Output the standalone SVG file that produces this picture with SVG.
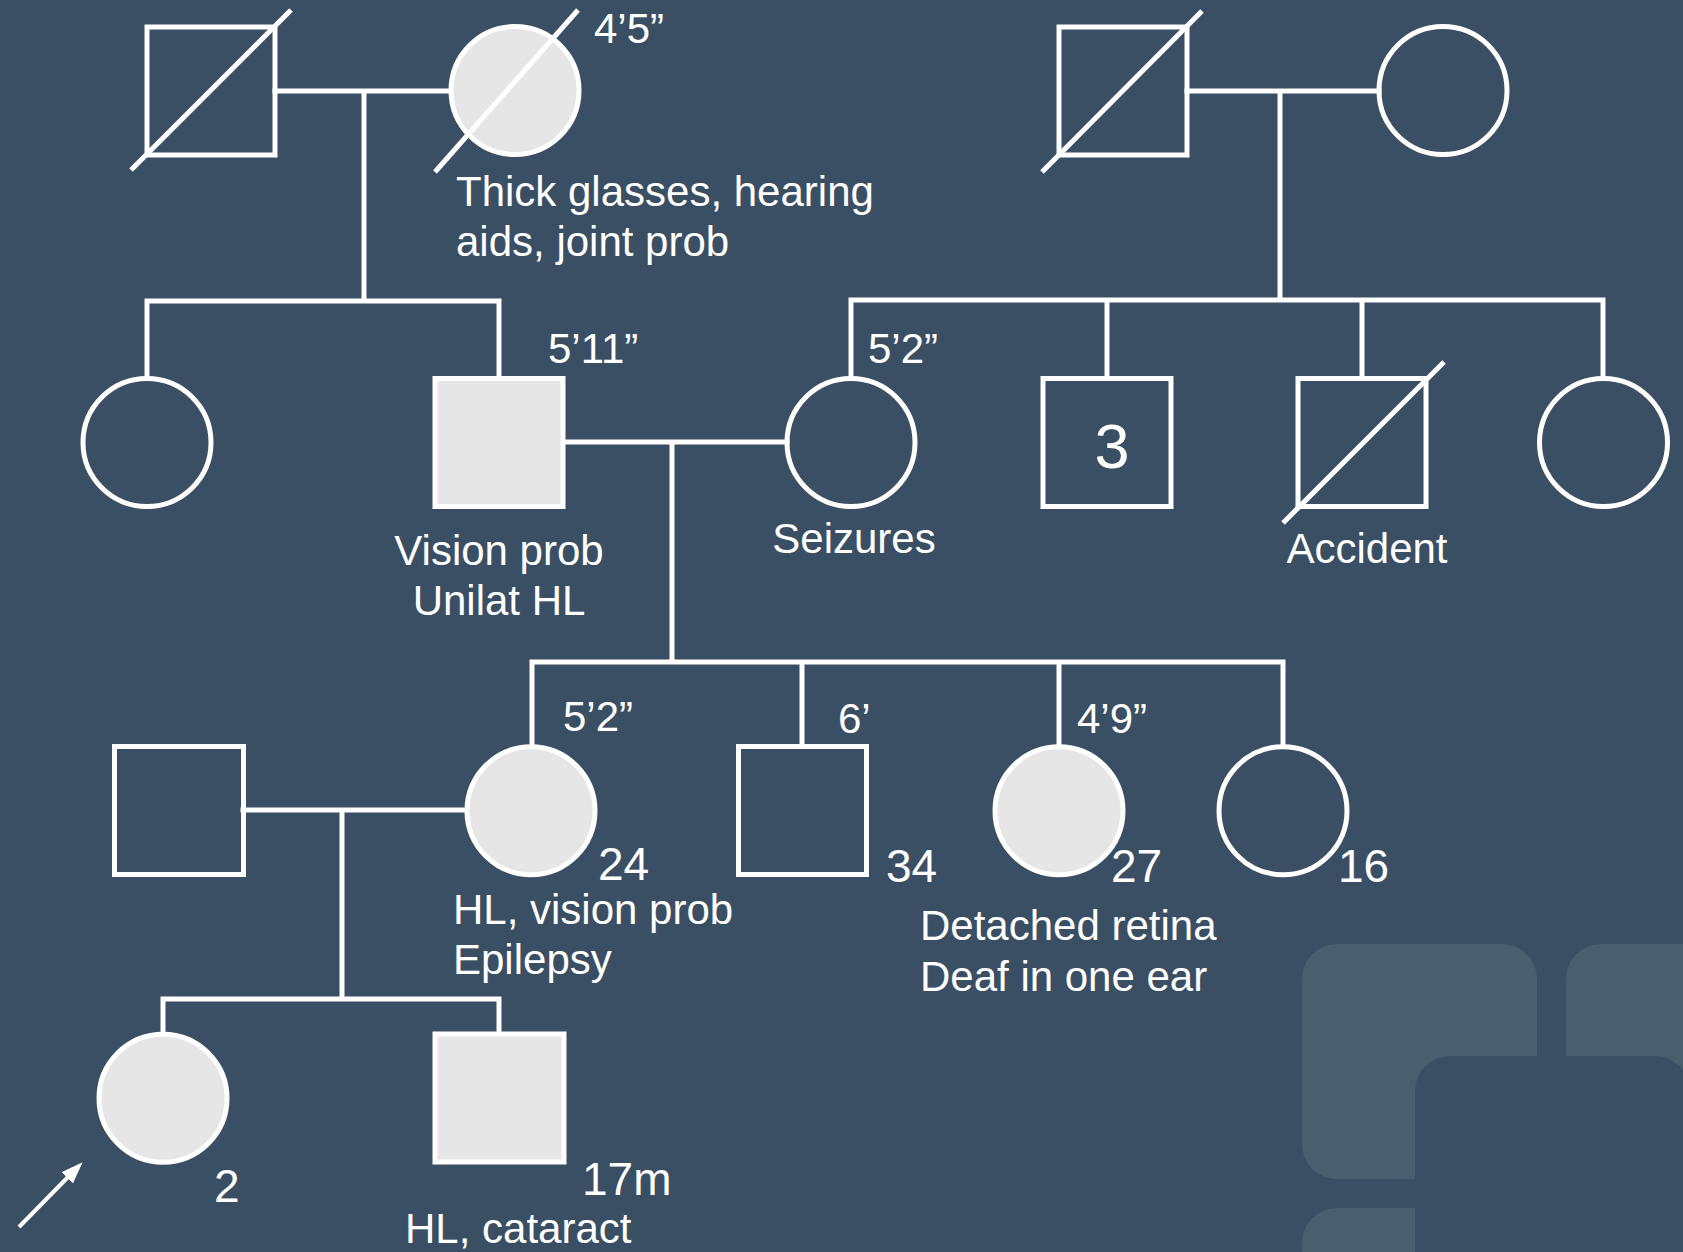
<svg xmlns="http://www.w3.org/2000/svg" width="1683" height="1252" viewBox="0 0 1683 1252">
<style>
.bg{fill:#3a4f63}
.deco{fill:#4b5e70}
.n{stroke:#ffffff;stroke-width:5;fill:none}
.a{stroke:#ffffff;stroke-width:5;fill:#e6e6e6}
.c{stroke:#ffffff;stroke-width:5;fill:none;stroke-linecap:square}
.d{stroke:#ffffff;stroke-width:5}
text{font-family:"Liberation Sans",Arial,sans-serif;fill:#ffffff;font-size:42px}
.age{font-size:46px}
.mid{text-anchor:middle}
</style>
<defs>
<marker id="arr" viewBox="0 0 22 16" refX="4" refY="8" markerWidth="22" markerHeight="16" orient="auto" markerUnits="userSpaceOnUse">
<path d="M0,0 L22,8 L0,16 z" fill="#ffffff"/>
</marker>
</defs>
<rect class="bg" x="0" y="0" width="1683" height="1252"/>
<g id="decoration">
<rect class="deco" x="1302" y="944" width="235" height="235" rx="35"/>
<rect class="deco" x="1566" y="944" width="200" height="235" rx="35"/>
<rect class="deco" x="1302" y="1208" width="235" height="235" rx="35"/>
<rect class="bg" x="1415" y="1056" width="275" height="300" rx="35"/>
</g>
<g id="connectors">
<path class="c" d="M275,91 H451 M364,91 V301 M147,301 H499 M147,301 V378 M499,301 V378"/>
<path class="c" d="M1187,91 H1379 M1280,91 V300 M851,300 H1603 M851,300 V378 M1107,300 V378 M1362,300 V378 M1603,300 V378"/>
<path class="c" d="M563,442 H787 M672,442 V662 M532,662 H1283 M532,662 V746 M802,662 V746 M1059,662 V746 M1283,662 V746"/>
<path class="c" d="M243,810 H467 M342,810 V999 M163,999 H499 M163,999 V1034 M499,999 V1034"/>
<line x1="19" y1="1227" x2="70" y2="1175" stroke="#ffffff" stroke-width="4" marker-end="url(#arr)"/>
</g>
<g id="gp1">
<rect class="n" x="147" y="27" width="128" height="128"/>
<line class="d" x1="131" y1="170" x2="291" y2="10"/>
</g>
<g id="gm1">
<circle class="a" cx="515" cy="90.5" r="64"/>
<line class="d" x1="435" y1="172" x2="578" y2="10"/>
<text x="594" y="43">4’5”</text>
<text x="456" y="206">Thick glasses, hearing</text>
<text x="456" y="256">aids, joint prob</text>
</g>
<g id="gp2">
<rect class="n" x="1059" y="27" width="128" height="128"/>
<line class="d" x1="1042" y1="172" x2="1202" y2="11"/>
</g>
<g id="gm2">
<circle class="n" cx="1443" cy="90.5" r="64"/>
</g>
<g id="aunt1">
<circle class="n" cx="147" cy="442.5" r="64"/>
</g>
<g id="father">
<rect class="a" x="435" y="378.5" width="128" height="128"/>
<text x="548" y="363">5’11”</text>
<text class="mid" x="499" y="565">Vision prob</text>
<text class="mid" x="499" y="615">Unilat HL</text>
</g>
<g id="mother">
<circle class="n" cx="851" cy="442.5" r="64"/>
<text x="868" y="363">5’2”</text>
<text class="mid" x="854" y="553">Seizures</text>
</g>
<g id="uncles3">
<rect class="n" x="1043" y="378.5" width="128" height="128"/>
<text class="mid" x="1112" y="468" style="font-size:63px">3</text>
</g>
<g id="uncle-accident">
<rect class="n" x="1298" y="378.5" width="128" height="128"/>
<line class="d" x1="1283" y1="523" x2="1444" y2="362"/>
<text class="mid" x="1367" y="563">Accident</text>
</g>
<g id="aunt2">
<circle class="n" cx="1603.5" cy="442.5" r="64"/>
</g>
<g id="spouse">
<rect class="n" x="114.5" y="746.5" width="129" height="128"/>
</g>
<g id="daughter24">
<circle class="a" cx="531" cy="810.7" r="64"/>
<text x="563" y="731">5’2”</text>
<text class="age" x="598" y="880">24</text>
<text x="453" y="924">HL, vision prob</text>
<text x="453" y="974">Epilepsy</text>
</g>
<g id="son34">
<rect class="n" x="738.5" y="746.5" width="128" height="128"/>
<text x="838" y="733">6’</text>
<text class="age" x="886" y="882">34</text>
</g>
<g id="daughter27">
<circle class="a" cx="1059" cy="810.7" r="64"/>
<text x="1077" y="733">4’9”</text>
<text class="age" x="1111" y="882">27</text>
<text x="920" y="940">Detached retina</text>
<text x="920" y="991">Deaf in one ear</text>
</g>
<g id="daughter16">
<circle class="n" cx="1283" cy="810.7" r="64"/>
<text class="age" x="1338" y="882">16</text>
</g>
<g id="proband">
<circle class="a" cx="163" cy="1098.3" r="64"/>
<text class="age" x="214" y="1202">2</text>
</g>
<g id="brother">
<rect class="a" x="435" y="1034" width="129" height="128"/>
<text class="age" x="582" y="1195">17m</text>
<text x="405" y="1243">HL, cataract</text>
</g>
</svg>
